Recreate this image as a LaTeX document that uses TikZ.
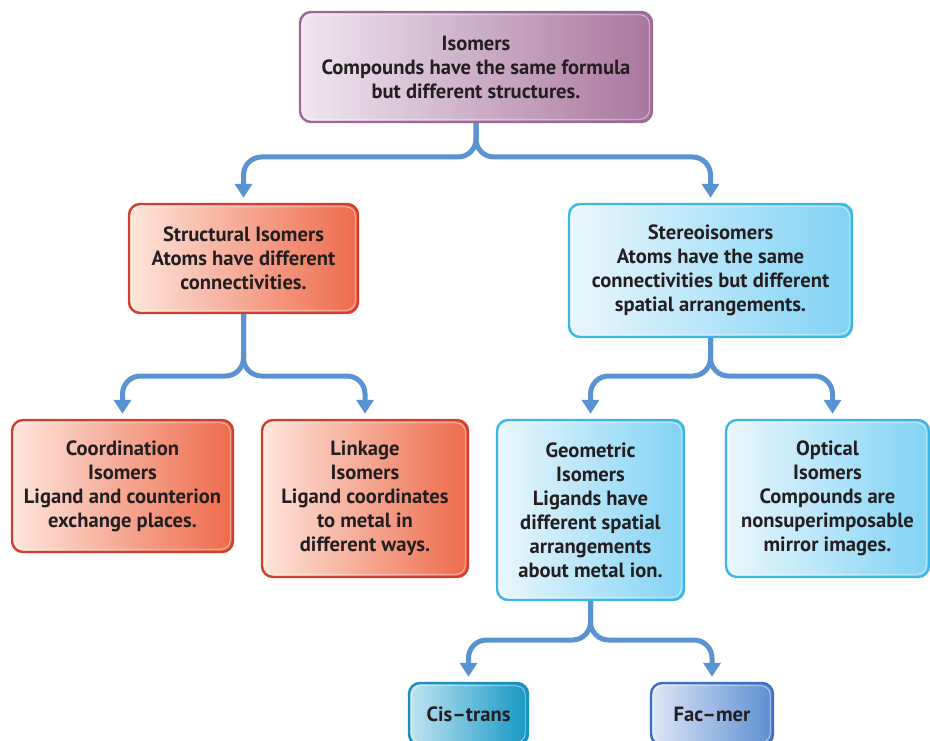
\documentclass[tikz,border=0pt]{standalone}
\usepackage{fontspec}
\setmainfont{PT Sans}
\usetikzlibrary{arrows.meta}
\definecolor{txt}{HTML}{231F20}
\definecolor{linkblue}{HTML}{5A93D2}
\definecolor{purL}{HTML}{F1E6F1}
\definecolor{purR}{HTML}{A8769F}
\definecolor{purB}{HTML}{9C6A98}
\definecolor{redL}{HTML}{FDE6DB}
\definecolor{redR}{HTML}{EE6A4C}
\definecolor{redB}{HTML}{D23F2F}
\definecolor{bluL}{HTML}{EAF7FD}
\definecolor{bluR}{HTML}{80D2F4}
\definecolor{bluB}{HTML}{3BB6E6}
\definecolor{cisL}{HTML}{C0E4F1}
\definecolor{cisR}{HTML}{1597C4}
\definecolor{cisB}{HTML}{1B8FBD}
\definecolor{facL}{HTML}{DDE7F5}
\definecolor{facR}{HTML}{5C8DD0}
\definecolor{facB}{HTML}{3F6FC0}
\begin{document}
\begin{tikzpicture}[x=1pt,y=-1pt,
  box/.style={rounded corners=11pt, line width=2.4pt, align=center,
    font=\bfseries\fontsize{20.6}{24}\selectfont, text=txt, inner sep=0pt,
    path picture={\draw[white,opacity=.55,line width=.8pt,rounded corners=9pt]
      ([shift={(2.8pt,-2.8pt)}]path picture bounding box.north west) rectangle
      ([shift={(-2.8pt,2.8pt)}]path picture bounding box.south east);}},
  purplebox/.style={box, draw=purB, left color=purL, right color=purR},
  redbox/.style={box, draw=redB, left color=redL, right color=redR},
  bluebox/.style={box, draw=bluB, left color=bluL, right color=bluR},
  cisbox/.style={box, draw=cisB, left color=cisL, right color=cisR},
  facbox/.style={box, draw=facB, left color=facL, right color=facR},
  conn/.style={draw=linkblue, line width=5pt, rounded corners=18pt,
    -{Triangle[width=17pt,length=14pt]}, shorten >=5pt}]
\useasboundingbox (0,0) rectangle (930,741);
\clip (0,0) rectangle (930,741);

\node[purplebox, minimum width=352pt, minimum height=110pt] (iso) at (476,67)
  {Isomers\\Compounds have the same formula\\but different structures.};
\node[redbox, minimum width=229pt, minimum height=109pt] (str) at (243.5,258.5)
  {Structural Isomers\\Atoms have different\\connectivities.};
\node[bluebox, minimum width=283pt, minimum height=133pt] (ste) at (710.5,270.5)
  {Stereoisomers\\Atoms have the same\\connectivities but different\\spatial arrangements.};
\node[redbox, minimum width=221pt, minimum height=132pt] (coo) at (122.5,486)
  {Coordination\\Isomers\\Ligand and counterion\\exchange places.};
\node[redbox, minimum width=206pt, minimum height=157pt] (lin) at (365,498.5)
  {Linkage\\Isomers\\Ligand coordinates\\to metal in\\different ways.};
\node[bluebox, minimum width=187pt, minimum height=180pt] (geo) at (590.5,510)
  {Geometric\\Isomers\\Ligands have\\different spatial\\arrangements\\about metal ion.};
\node[bluebox, minimum width=203pt, minimum height=157pt] (opt) at (827.5,498.5)
  {Optical\\Isomers\\Compounds are\\nonsuperimposable\\mirror images.};
\node[cisbox, minimum width=119pt, minimum height=62pt] (cis) at (468.5,714)
  {Cis--trans};
\node[facbox, minimum width=122pt, minimum height=62pt] (fac) at (712,714)
  {Fac--mer};

\coordinate (b1) at (0,157);
\coordinate (b2) at (0,376);
\coordinate (b3) at (0,640);
\draw[conn] (iso.south) -- (iso.south |- b1) -- (str.north |- b1) -- (str.north);
\draw[conn] (iso.south) -- (iso.south |- b1) -- (ste.north |- b1) -- (ste.north);
\draw[conn] (str.south) -- (str.south |- b2) -- (coo.north |- b2) -- (coo.north);
\draw[conn] (str.south) -- (str.south |- b2) -- (lin.north |- b2) -- (lin.north);
\draw[conn] (ste.south) -- (ste.south |- b2) -- (geo.north |- b2) -- (geo.north);
\draw[conn] (ste.south) -- (ste.south |- b2) -- ([xshift=5pt]opt.north |- b2) -- ([xshift=5pt]opt.north);
\draw[conn] (geo.south) -- (geo.south |- b3) -- (cis.north |- b3) -- (cis.north);
\draw[conn] (geo.south) -- (geo.south |- b3) -- (fac.north |- b3) -- (fac.north);
\end{tikzpicture}
\end{document}
